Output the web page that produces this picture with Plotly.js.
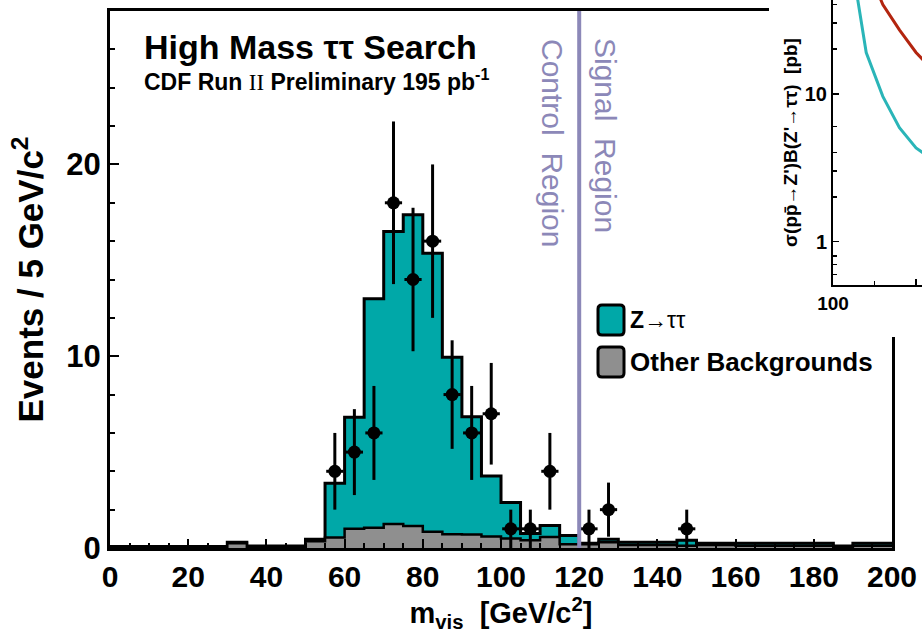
<!DOCTYPE html>
<html><head><meta charset="utf-8">
<script src="https://cdn.plot.ly/plotly-3.0.1.min.js"></script>
<style>html,body{margin:0;padding:0;background:#fff}#chart{width:922px;height:637px}</style>
</head><body><div id="chart"></div>
<script>
// ---------- data ----------
const binLow = [0,5,10,15,20,25,30,35,40,45,50,55,60,65,70,75,80,85,90,95,100,105,110,115,120,125,130,135,140,145,150,155,160,165,170,175,180,185,190,195];
const binHighEnd = 200;
const zTauTau = [0.03,0.03,0.03,0.03,0.03,0.03,0.05,0.05,0.05,0.05,0.1,2.82,5.82,11.95,15.25,16.22,14.52,9.23,6.15,3.15,1.87,0.35,0.6,0.45,0.05,0.15,0.15,0.15,0.15,0.28,0.1,0.1,0.13,0.13,0.13,0.13,0.13,0.05,0.13,0.13];
const otherBkg = [0.05,0.05,0.05,0.05,0.05,0.05,0.25,0.05,0.05,0.05,0.35,0.55,1.0,1.05,1.25,1.15,0.85,0.72,0.7,0.6,0.5,0.4,0.57,0.2,0.2,0.3,0.15,0.15,0.15,0.12,0.15,0.15,0.12,0.12,0.12,0.12,0.12,0.05,0.12,0.12];
const dataMass = [57.5,62.5,67.5,72.5,77.5,82.5,87.5,92.5,97.5,102.5,107.5,112.5,122.5,127.5,147.5];
const dataEvents = [4,5,6,18,14,16,8,6,7,1,1,4,1,2,1];
const dataErr = [2,2.24,2.45,4.24,3.74,4,2.83,2.45,2.65,1,1,2,1,1.41,1];
const xTickVals = [0,20,40,60,80,100,120,140,160,180,200];
const yTickVals = [0,10,20];
const insetMassTeal = [120,140,160,180,200,220];
const insetTeal = [95,19,9.6,5.9,4.3,3.6];
const insetMassRed = [140,160,180,200,220];
const insetRed = [75,40,27,19,14.5];
const insetXTicks = [100,200];
const insetYTicks = [1,10];
const insetYTickText = ['1','10'];

// ---------- helpers (pixel -> paper) ----------
const L = 110, PW = 812, PH = 548;
const PX = x => (x - L) / PW;
const PY = y => (PH - y) / PH;
const FONT = 'Liberation Sans, Arial, Helvetica, sans-serif';
const LAV = '#8c88b8';

const edges = binLow.concat([binHighEnd]);
const totalVals = binLow.map((_, i) => zTauTau[i] + otherBkg[i]);
const stepY = a => a.concat([a[a.length - 1]]);

const traces = [
  {x: edges, y: stepY(totalVals), mode: 'lines', line: {shape: 'hv', color: '#000', width: 3},
   fill: 'tozeroy', fillcolor: '#00a8a8', showlegend: false, hoverinfo: 'skip'},
  {x: edges, y: stepY(otherBkg), mode: 'lines', line: {shape: 'hv', color: '#000', width: 2.5},
   fill: 'tozeroy', fillcolor: '#8f8f8f', showlegend: false, hoverinfo: 'skip'},
  {x: dataMass, y: dataEvents, mode: 'markers', marker: {size: 13, color: '#000'},
   error_y: {type: 'data', array: dataErr, color: '#000', thickness: 3, width: 0},
   error_x: {type: 'constant', value: 2.2, color: '#000', thickness: 3, width: 0},
   showlegend: false},
  // white cover for the inset region
  {x: [0.5], y: [0.5], xaxis: 'x2', yaxis: 'y2', mode: 'markers', marker: {opacity: 0},
   showlegend: false, hoverinfo: 'skip'},
  // inset curves
  {x: insetMassTeal, y: insetTeal, xaxis: 'x3', yaxis: 'y3', mode: 'lines',
   line: {color: '#2ab5b8', width: 3}, showlegend: false},
  {x: insetMassRed, y: insetRed, xaxis: 'x3', yaxis: 'y3', mode: 'lines',
   line: {color: '#b3250f', width: 3}, showlegend: false}
];

function rrect(x0, y0, x1, y1, r) {
  const a = PX(x0), b = PX(x1), c = PY(y0), d = PY(y1);
  const rx = r / PW, ry = r / PH;
  return `M ${a+rx} ${c} L ${b-rx} ${c} Q ${b} ${c} ${b} ${c-ry} L ${b} ${d+ry} Q ${b} ${d} ${b-rx} ${d} L ${a+rx} ${d} Q ${a} ${d} ${a} ${d+ry} L ${a} ${c-ry} Q ${a} ${c} ${a+rx} ${c} Z`;
}

const layout = {
  width: 922, height: 637,
  margin: {l: L, r: 0, t: 0, b: 637 - PH},
  paper_bgcolor: '#fff', plot_bgcolor: '#fff',
  font: {family: FONT, size: 14, color: '#000'},
  showlegend: false,
  xaxis: {
    domain: [0, 782 / PW], range: [0, 200], tickvals: xTickVals,
    ticks: 'inside', ticklen: 9, tickwidth: 2, tickcolor: '#000',
    minor: {dtick: 5, tick0: 0, ticks: 'inside', ticklen: 5, tickwidth: 2, tickcolor: '#000'},
    showline: true, linewidth: 3, linecolor: '#000', mirror: true,
    showgrid: false, zeroline: false,
    tickfont: {family: FONT, size: 30, weight: 'bold', color: '#000'},
    title: {text: '<b>m<sub>vis</sub>  [GeV/c<sup>2</sup>]</b>', font: {family: FONT, size: 29, color: '#000'}, standoff: 10}
  },
  yaxis: {
    domain: [0, 537 / PH], range: [0, 28], tickvals: yTickVals,
    ticks: 'inside', ticklen: 9, tickwidth: 2, tickcolor: '#000',
    minor: {dtick: 2, tick0: 0, ticks: 'inside', ticklen: 5, tickwidth: 2, tickcolor: '#000'},
    showline: true, linewidth: 3, linecolor: '#000', mirror: true,
    showgrid: false, zeroline: false,
    tickfont: {family: FONT, size: 31, weight: 'bold', color: '#000'},
    title: {text: '<b>Events / 5 GeV/c<sup>2</sup></b>', font: {family: FONT, size: 35, color: '#000'}, standoff: 13}
  },
  xaxis2: {domain: [PX(769), 1], anchor: 'y2', range: [0, 1], visible: false, fixedrange: true},
  yaxis2: {domain: [PY(337), 1], anchor: 'x2', range: [0, 1], visible: false, fixedrange: true},
  xaxis3: {
    domain: [PX(833), 1], anchor: 'y3', range: [100, 207.2], tickvals: insetXTicks,
    ticks: 'inside', ticklen: 6, tickwidth: 1.5, tickcolor: '#000',
    minor: {tickvals: [150], ticks: 'inside', ticklen: 4, tickwidth: 1.5, tickcolor: '#000'},
    showline: true, linewidth: 2, linecolor: '#000', showgrid: false, zeroline: false,
    tickfont: {family: FONT, size: 19, weight: 'bold', color: '#000'}
  },
  yaxis3: {
    domain: [PY(285), 1], anchor: 'x3', type: 'log', range: [-0.2924, 1.6335],
    tickvals: insetYTicks, ticktext: insetYTickText,
    ticks: 'inside', ticklen: 6, tickwidth: 1.5, tickcolor: '#000',
    minor: {tickvals: [0.6,0.7,0.8,2,3,4,6,20,30,40], ticks: 'inside', ticklen: 4, tickwidth: 1.5, tickcolor: '#000'},
    showline: true, linewidth: 2, linecolor: '#000', showgrid: false, zeroline: false,
    tickfont: {family: FONT, size: 20, weight: 'bold', color: '#000'},
    title: {text: '<b>σ(pp\u0304→Z\')B(Z\'→ττ)  [pb]</b>', font: {family: FONT, size: 19, color: '#000'}, standoff: 2}
  },
  shapes: [
    {type: 'line', xref: 'x', yref: 'y', x0: 120, x1: 120, y0: 0, y1: 28, line: {color: LAV, width: 4}, layer: 'above'},
    {type: 'path', xref: 'paper', yref: 'paper', path: rrect(598, 305, 624, 335, 4), fillcolor: '#00a8a8', line: {color: '#000', width: 3}, layer: 'above'},
    {type: 'path', xref: 'paper', yref: 'paper', path: rrect(598, 347, 624, 377, 4), fillcolor: '#8f8f8f', line: {color: '#000', width: 3}, layer: 'above'}
  ],
  annotations: [
    {xref: 'paper', yref: 'paper', x: PX(142), y: PY(47), xanchor: 'left', yanchor: 'middle', showarrow: false,
     text: '<b>High Mass ττ Search</b>', font: {family: FONT, size: 34, color: '#000'}},
    {xref: 'paper', yref: 'paper', x: PX(142), y: PY(80), xanchor: 'left', yanchor: 'middle', showarrow: false,
     text: '<b>CDF Run <span style="font-family:Liberation Serif;font-weight:normal">II</span> Preliminary 195 pb<sup>-1</sup></b>',
     font: {family: FONT, size: 23, color: '#000'}},
    {xref: 'paper', yref: 'paper', x: PX(553), y: PY(143), xanchor: 'center', yanchor: 'middle', showarrow: false,
     textangle: 90, text: 'Control\u00a0 Region', font: {family: FONT, size: 30, color: LAV}},
    {xref: 'paper', yref: 'paper', x: PX(605), y: PY(135), xanchor: 'center', yanchor: 'middle', showarrow: false,
     textangle: 90, text: 'Signal\u00a0 Region', font: {family: FONT, size: 30, color: LAV}},
    {xref: 'paper', yref: 'paper', x: PX(628), y: PY(320), xanchor: 'left', yanchor: 'middle', showarrow: false,
     text: '<b>Z</b>→ττ', font: {family: FONT, size: 23, color: '#000'}},
    {xref: 'paper', yref: 'paper', x: PX(628), y: PY(362), xanchor: 'left', yanchor: 'middle', showarrow: false,
     text: '<b>Other Backgrounds</b>', font: {family: FONT, size: 26, color: '#000'}}
  ]
};

Plotly.newPlot('chart', traces, layout, {displayModeBar: false, staticPlot: true});
</script>
</body></html>
